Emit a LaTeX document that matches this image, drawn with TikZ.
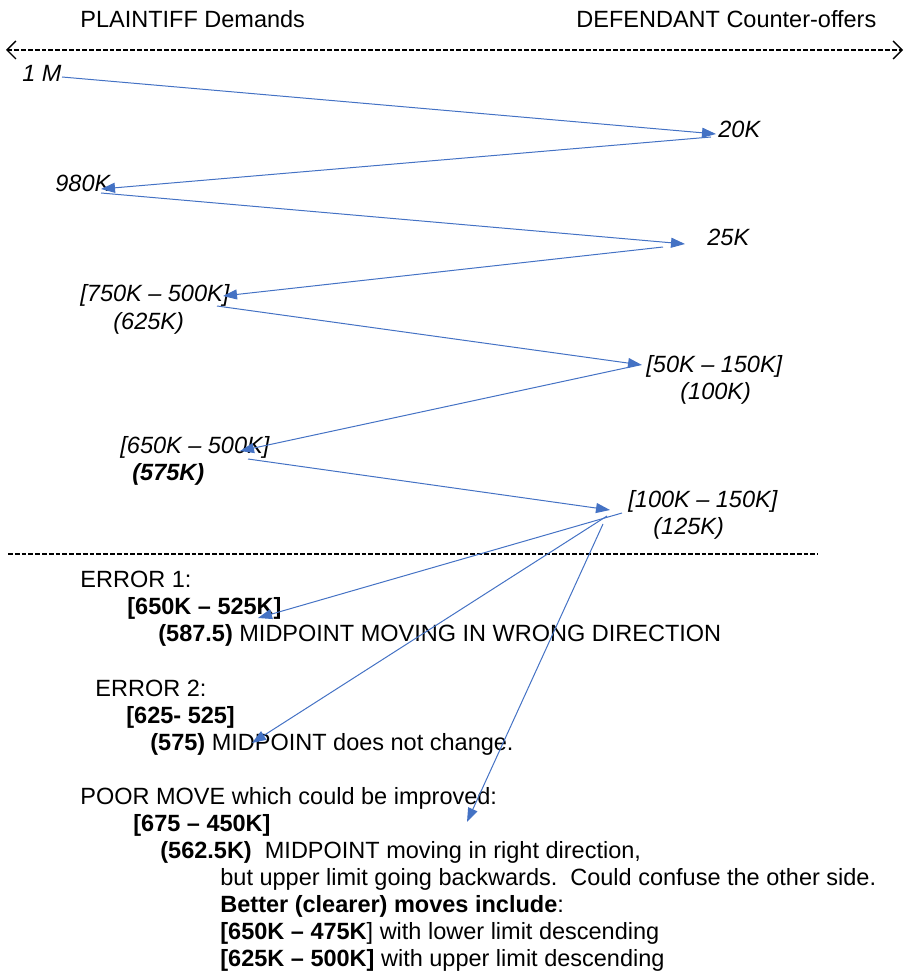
\documentclass[tikz,border=0pt]{standalone}
\usepackage{fontspec}
\setmainfont{Liberation Sans}
\usepackage{xcolor}
\usetikzlibrary{arrows.meta}
\definecolor{linkblue}{HTML}{4472C4}
\tikzset{
txt/.style={
anchor=base west,
inner sep=0pt,
font=\fontsize{11.75}{13.5}\selectfont
},
offer/.style={
txt,
font=\fontsize{11.75}{13.5}\selectfont\itshape
},
link/.style={
-{Triangle[length=7pt,width=5pt]},
linkblue,
line width=0.5pt
},
sep/.style={
line width=0.85pt,
dash pattern=on 2.4pt off 1pt
},
barb/.style={
{Straight Barb[length=4.5pt,width=9pt,line width=0.7pt]}-{Straight Barb[length=4.5pt,width=9pt,line width=0.7pt]}
}
}

\begin{document}
\begin{tikzpicture}[x=0.5pt,y=-0.5pt]
\useasboundingbox (0,0) rectangle (904,972);

% heads
\node[txt](pl) at (80,28){PLAINTIFF Demands};
\node[txt](df) at (576,28){DEFENDANT Counter-offers};
\coordinate (axl) at (6,50);
\coordinate (axr) at (903,50);
\draw[sep,barb](axl)--(axr);

% demands and counter-offers
\node[offer](a) at (22,82){1 M};
\node[offer](b) at (718,138){20K};
\node[offer](c) at (55,192){980K};
\node[offer](d) at (707,246){25K};
\node[offer](e) at (80,302){[750K -- 500K]};
\node[offer](em) at (113,329){(625K)};
\node[offer](f) at (646,372){[50K -- 150K]};
\node[offer](fm) at (680,399){(100K)};
\node[offer](g) at (120,453){[650K -- 500K]};
\node[offer](gm) at (132,480){\bfseries (575K)};
\node[offer](h) at (628,507){[100K -- 150K]};
\node[offer](hm) at (653,534){(125K)};

\coordinate (hl) at (8,554);
\coordinate (hr) at (818,554);
\draw[sep](hl)--(hr);

% notes
\node[txt](e1) at (80,587){ERROR 1:};
\node[txt](e1r) at (127,614){\bfseries [650K -- 525K]};
\node[txt](e1m) at (158,641){\textbf{(587.5)} MIDPOINT MOVING IN WRONG DIRECTION};
\node[txt](e2) at (95,696){ERROR 2:};
\node[txt](e2r) at (126,723){\bfseries [625- 525]};
\node[txt](e2m) at (150,750){\textbf{(575)} MIDPOINT does not change.};
\node[txt](pm) at (80,804){POOR MOVE which could be improved:};
\node[txt](pmr) at (133,831){\bfseries [675 -- 450K]};
\node[txt](pmm) at (160,858){\textbf{(562.5K)}\ \ MIDPOINT moving in right direction,};
\node[txt](pm2) at (220,885){but upper limit going backwards.\ \ Could confuse the other side.};
\node[txt](pm3) at (220,912){\textbf{Better (clearer) moves include}:};
\node[txt](pm4) at (220,939){\textbf{[650K -- 475K}] with lower limit descending};
\node[txt](pm5) at (220,966){\textbf{[625K -- 500K]} with upper limit descending};

% arrow ends
\coordinate (a1) at (62,77);
\coordinate (b0) at (716,134);
\coordinate (b1) at (711,137);
\coordinate (c0) at (101,189);
\coordinate (c1) at (101,193);
\coordinate (d0) at (685,244);
\coordinate (d1) at (663,247);
\coordinate (e0) at (223,296);
\coordinate (e1) at (217,306);
\coordinate (f0) at (642,365);
\coordinate (f1) at (630,367);
\coordinate (g0) at (240,451);
\coordinate (g1) at (248,459);
\coordinate (h0) at (610,510);
\coordinate (h1) at (622,513);
\coordinate (h2) at (607,516);
\coordinate (h3) at (603,524);
\coordinate (x1) at (258,618);
\coordinate (x2) at (252,743);
\coordinate (x3) at (467,822);

\foreach \x/\y in {a1/b0,b1/c0,c1/d0,d1/e0,e1/f0,f1/g0,g1/h0,h1/x1,h2/x2,h3/x3}
\draw[link](\x)--(\y);

\end{tikzpicture}
\end{document}
